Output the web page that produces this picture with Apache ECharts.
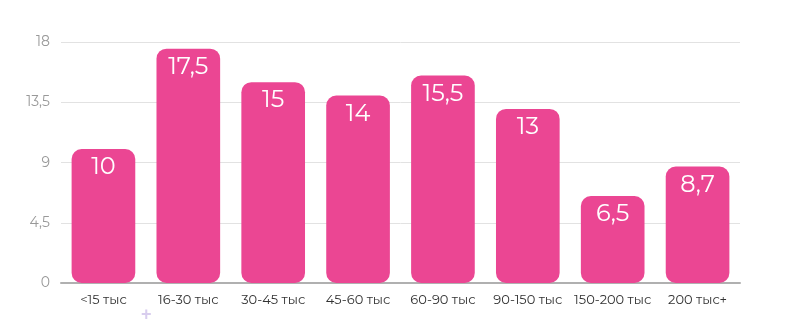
<!DOCTYPE html>
<html><head><meta charset="utf-8">
<script src="https://cdn.jsdelivr.net/npm/echarts@6/dist/echarts.min.js"></script>
<style>html,body{margin:0;padding:0;background:#fff}#c{width:800px;height:331px}</style>
</head><body><div id="c"></div>
<script>
const categories = ['<15 тыс','16-30 тыс','30-45 тыс','45-60 тыс','60-90 тыс','90-150 тыс','150-200 тыс','200 тыс+'];
const values = [10, 17.5, 15, 14, 15.5, 13, 6.5, 8.7];
const yTicks = [0, 4.5, 9, 13.5, 18];
const fmt = v => String(v).replace('.', ',');
const chart = echarts.init(document.getElementById('c'), null, {renderer:'canvas'});
chart.setOption({
  animation: false,
  grid: {left: 61, right: 60, top: 42, bottom: 48},
  xAxis: {
    type: 'category', data: categories,
    axisTick: {show: false},
    axisLine: {lineStyle: {color: '#b0b0b0', width: 2}},
    axisLabel: {interval: 0, color: '#333', fontSize: 13, fontFamily: 'Montserrat, "Open Sans", sans-serif', margin: 11}
  },
  yAxis: {
    type: 'value', min: yTicks[0], max: yTicks[yTicks.length-1], interval: 4.5,
    axisLine: {show: false}, axisTick: {show: false},
    splitLine: {lineStyle: {color: '#e2e2e2', width: 1}},
    axisLabel: {color: '#999', fontSize: 14, fontFamily: 'Montserrat, "Open Sans", sans-serif', margin: 11, formatter: v => fmt(v)}
  },
  series: [{
    type: 'bar', data: values, barWidth: '75%',
    itemStyle: {color: '#EB4693', borderRadius: 10},
    label: {show: true, position: 'insideTop', distance: 6, color: '#fff', fontSize: 24,
      fontFamily: 'Montserrat, "Open Sans", sans-serif', fontWeight: 400, formatter: p => fmt(p.value)}
  }],
  graphic: [{type: 'text', left: 141, top: 306, style: {text: '+', fill: '#d8cdee', fontSize: 18, fontWeight: 'bold', fontFamily: 'sans-serif'}}]
});
</script></body></html>
